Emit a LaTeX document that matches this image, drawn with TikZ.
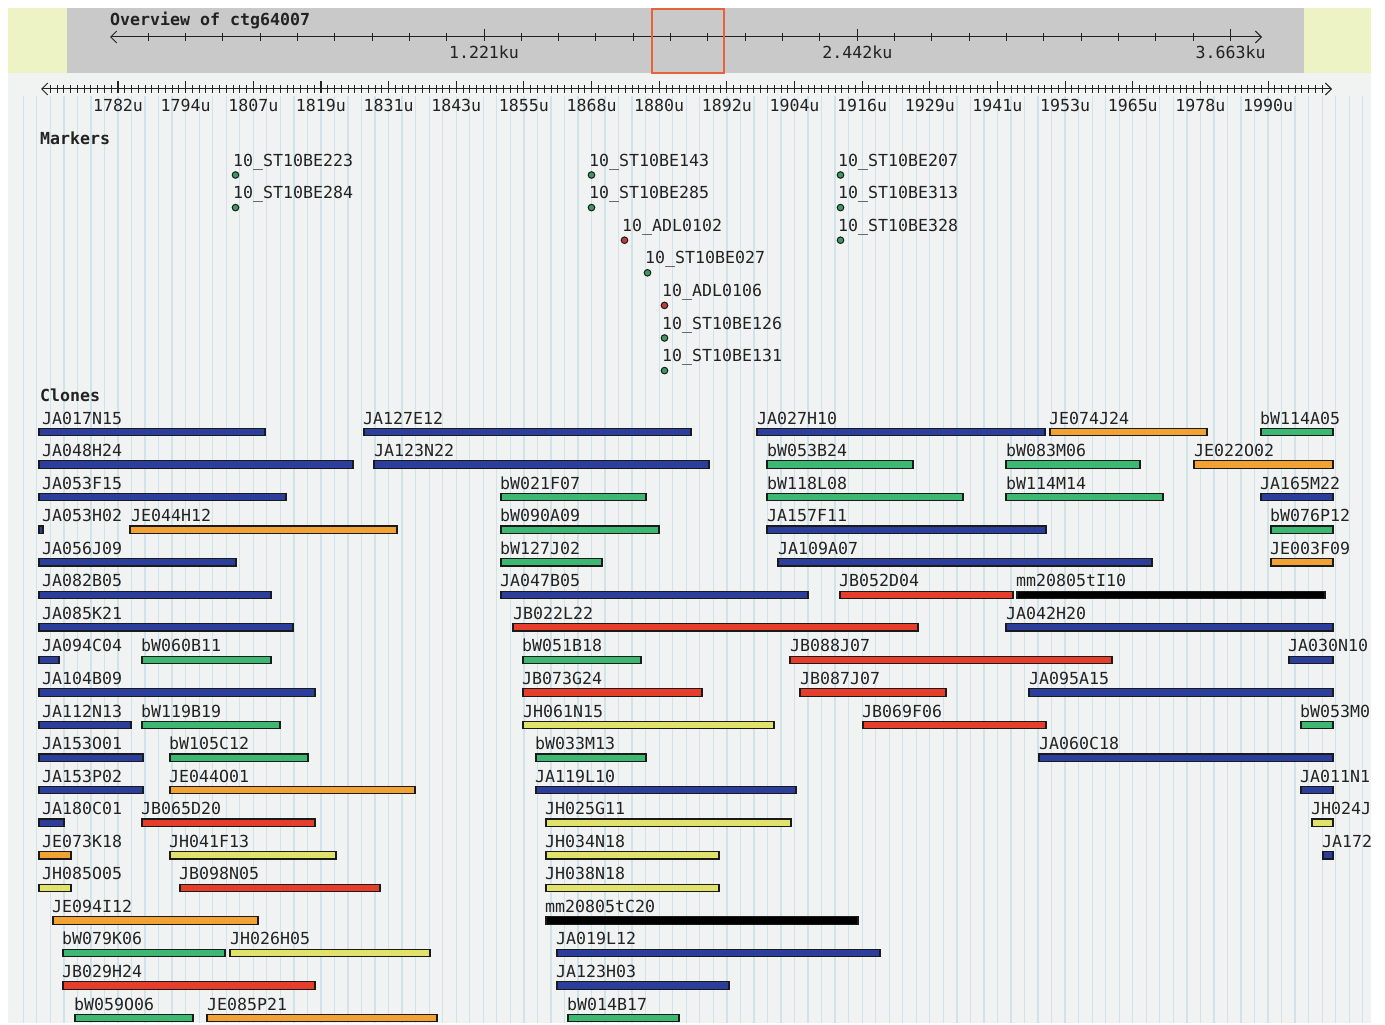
\documentclass[tikz,border=0pt]{standalone}
\usepackage{fontspec}
\setmonofont{DejaVu Sans Mono}
\usetikzlibrary{arrows.meta}
\definecolor{panel}{HTML}{F1F3F2}
\definecolor{gridc}{HTML}{D0E3EA}
\definecolor{bandgray}{HTML}{C9C9C9}
\definecolor{bandyel}{HTML}{EEF3C6}
\definecolor{boxred}{HTML}{E8603C}
\definecolor{txt}{HTML}{222222}
\definecolor{barline}{HTML}{1A1A1A}
\definecolor{cblue}{HTML}{2B3E9C}
\definecolor{cgreen}{HTML}{3CB872}
\definecolor{corange}{HTML}{F2A232}
\definecolor{cred}{HTML}{E63E2A}
\definecolor{cyellow}{HTML}{E0E26A}
\definecolor{mgreen}{HTML}{3A9A62}
\definecolor{mred}{HTML}{C23A3A}
\begin{document}
\begin{tikzpicture}[x=1pt,y=-1pt,
  lbl/.style={font=\ttfamily\fontsize{16.6}{17}\selectfont, inner sep=0pt, anchor=base west, text=txt},
  lblc/.style={font=\ttfamily\fontsize{16.6}{17}\selectfont, inner sep=0pt, anchor=base, text=txt},
  ttl/.style={font=\ttfamily\bfseries\fontsize{16.6}{17}\selectfont, inner sep=0pt, anchor=base west, text=txt},
  bar/.style={draw=barline, line width=1.2pt},
  axis/.style={draw=txt, line width=1pt},
  mdot/.style={draw=barline, line width=1pt}]
\useasboundingbox (0,0) rectangle (1385,1025);
\fill[white] (0,0) rectangle (1385,1025);
\begin{scope}
\clip (8,8) rectangle (1371,1023);
\fill[panel] (8,8) rectangle (1371,1023);
% grid lines
\foreach \k in {-7,...,92} {
  \draw[gridc, line width=1.3pt] ({118+13.53*\k},96) -- ({118+13.53*\k},1023);
}
% top band
\fill[bandyel] (8,8) rectangle (67,73);
\fill[bandgray] (67,8) rectangle (1304,73);
\fill[bandyel] (1304,8) rectangle (1371,73);
\node[ttl] (ovtitle) at (110,26) {Overview of ctg64007};
\coordinate (ovl) at (110,37);
\coordinate (ovr) at (1262,37);
\draw[axis, {Straight Barb[length=6pt,width=12pt]}-{Straight Barb[length=6pt,width=12pt]}] (ovl) -- (ovr);
\foreach \k in {-9,...,20} {
  \draw[axis] ({484+37.33*\k},33) -- ({484+37.33*\k},41);
}
\foreach \k/\t in {0/1.221ku,10/2.442ku,20/3.663ku} {
  \draw[axis] ({484+37.33*\k},29) -- ({484+37.33*\k},41);
  \node[lblc] (ov\k) at ({484+37.33*\k},59) {\t};
}
\draw[boxred, line width=1.5pt] (652,9) rectangle (724,73);
% detailed ruler
\coordinate (rl) at (41,89);
\coordinate (rr) at (1332,89);
\draw[axis, {Straight Barb[length=6pt,width=12pt]}-{Straight Barb[length=6pt,width=12pt]}] (rl) -- (rr);
\foreach \j in {-10,...,178} {
  \draw[txt, line width=0.9pt] ({118+6.765*\j},85) -- ({118+6.765*\j},93);
}
\foreach \k/\t in {0/1782u,1/1794u,2/1807u,3/1819u,4/1831u,5/1843u,6/1855u,7/1868u,8/1880u,9/1892u,10/1904u,11/1916u,12/1929u,13/1941u,14/1953u,15/1965u,16/1978u,17/1990u} {
  \draw[txt, line width=1.1pt] ({118+67.65*\k},81) -- ({118+67.65*\k},93);
  \node[lblc] (ru\k) at ({118+67.65*\k},111) {\t};
}
% markers
\node[ttl] (markers) at (40,144) {Markers};
\foreach \nm/\x/\r/\c/\t in {
  m1/233/0/mgreen/10\_ST10BE223, m2/233/1/mgreen/10\_ST10BE284,
  m3/589/0/mgreen/10\_ST10BE143, m4/589/1/mgreen/10\_ST10BE285,
  m5/622/2/mred/10\_ADL0102, m6/645/3/mgreen/10\_ST10BE027,
  m7/662/4/mred/10\_ADL0106, m8/662/5/mgreen/10\_ST10BE126,
  m9/662/6/mgreen/10\_ST10BE131,
  m10/838/0/mgreen/10\_ST10BE207, m11/838/1/mgreen/10\_ST10BE313,
  m12/838/2/mgreen/10\_ST10BE328} {
  \pgfmathsetmacro\bl{166+32.6*\r}
  \node[lbl] (\nm) at (\x,\bl) {\t};
  \draw[mdot, fill=\c] ({\x+2.5},{\bl+9}) circle (3.3);
}
% clones
\node[ttl] (clones) at (40,401) {Clones};
\foreach \r/\lx/\xa/\xb/\col/\nm in {
0/42/39/265/cblue/JA017N15,
0/363/364/691/cblue/JA127E12,
0/757/757/1045/cblue/JA027H10,
0/1049/1050/1207/corange/JE074J24,
0/1260/1261/1333/cgreen/bW114A05,
1/42/39/353/cblue/JA048H24,
1/374/374/709/cblue/JA123N22,
1/767/767/913/cgreen/bW053B24,
1/1006/1006/1140/cgreen/bW083M06,
1/1194/1194/1333/corange/JE022O02,
2/42/39/286/cblue/JA053F15,
2/500/501/646/cgreen/bW021F07,
2/767/767/963/cgreen/bW118L08,
2/1006/1006/1163/cgreen/bW114M14,
2/1260/1261/1333/cblue/JA165M22,
3/42/39/43/cblue/JA053H02,
3/131/130/397/corange/JE044H12,
3/500/501/659/cgreen/bW090A09,
3/767/767/1046/cblue/JA157F11,
3/1270/1271/1333/cgreen/bW076P12,
4/42/39/236/cblue/JA056J09,
4/500/501/602/cgreen/bW127J02,
4/778/778/1152/cblue/JA109A07,
4/1270/1271/1333/corange/JE003F09,
5/42/39/271/cblue/JA082B05,
5/500/501/808/cblue/JA047B05,
5/839/840/1013/cred/JB052D04,
5/1016/1017/1325/black/mm20805tI10,
6/42/39/293/cblue/JA085K21,
6/513/513/918/cred/JB022L22,
6/1006/1006/1333/cblue/JA042H20,
7/42/39/59/cblue/JA094C04,
7/141/142/271/cgreen/bW060B11,
7/522/523/641/cgreen/bW051B18,
7/790/790/1112/cred/JB088J07,
7/1288/1289/1333/cblue/JA030N10,
8/42/39/315/cblue/JA104B09,
8/522/523/702/cred/JB073G24,
8/800/800/946/cred/JB087J07,
8/1029/1029/1333/cblue/JA095A15,
9/42/39/131/cblue/JA112N13,
9/141/142/280/cgreen/bW119B19,
9/523/523/774/cyellow/JH061N15,
9/862/863/1046/cred/JB069F06,
9/1300/1301/1333/cgreen/bW053M0,
10/42/39/143/cblue/JA153O01,
10/169/170/308/cgreen/bW105C12,
10/535/536/646/cgreen/bW033M13,
10/1039/1039/1333/cblue/JA060C18,
11/42/39/143/cblue/JA153P02,
11/169/170/415/corange/JE044O01,
11/535/536/796/cblue/JA119L10,
11/1300/1301/1333/cblue/JA011N1,
12/42/39/64/cblue/JA180C01,
12/141/142/315/cred/JB065D20,
12/545/546/791/cyellow/JH025G11,
12/1311/1312/1333/cyellow/JH024J,
13/42/39/71/corange/JE073K18,
13/169/170/336/cyellow/JH041F13,
13/545/546/719/cyellow/JH034N18,
13/1322/1323/1333/cblue/JA172,
14/42/39/71/cyellow/JH085O05,
14/179/180/380/cred/JB098N05,
14/545/546/719/cyellow/JH038N18,
15/52/53/258/corange/JE094I12,
15/545/546/858/black/mm20805tC20,
16/62/63/225/cgreen/bW079K06,
16/230/230/430/cyellow/JH026H05,
16/556/557/880/cblue/JA019L12,
17/62/63/315/cred/JB029H24,
17/556/557/729/cblue/JA123H03,
18/74/75/193/cgreen/bW059O06,
18/207/207/437/corange/JE085P21,
18/567/568/679/cgreen/bW014B17} {
  \pgfmathsetmacro\bl{424+32.56*\r}
  \pgfmathsetmacro\ya{\bl+4.3}
  \pgfmathsetmacro\yb{\bl+11.7}
  \node[lbl] (\nm) at (\lx,\bl) {\nm};
  \draw[bar, fill=\col] (\xa,\ya) rectangle (\xb,\yb);
}
\end{scope}
\end{tikzpicture}
\end{document}
